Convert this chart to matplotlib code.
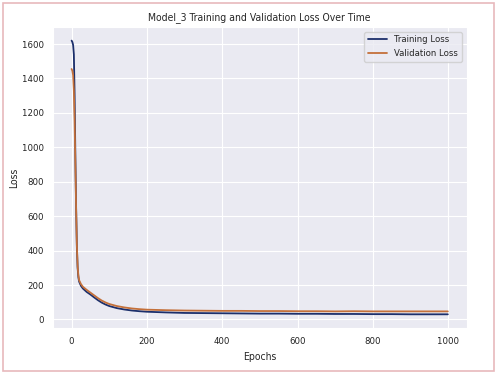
import numpy as np
import matplotlib.pyplot as plt
import seaborn as sns

# loss values at selected epochs
epochs = [0, 2, 4, 6, 8, 10, 12, 14, 16, 18, 20, 25, 30, 40, 50, 60, 70, 80, 90,
          100, 120, 140, 160, 180, 200, 250, 300, 350, 400, 450, 500, 550, 600,
          650, 700, 750, 800, 850, 900, 950, 999]
train_loss = [1620, 1612, 1595, 1540, 1300, 950, 650, 420, 300, 245, 220, 195,
              180, 160, 145, 128, 112, 98, 87, 78, 66, 58, 52, 48, 45, 41, 38,
              37, 36, 35, 34, 34, 33, 33, 32, 32, 31, 31, 30, 30, 30]
val_loss = [1455, 1445, 1420, 1330, 1150, 900, 640, 430, 310, 255, 228, 205,
            190, 172, 156, 140, 124, 110, 99, 90, 78, 70, 64, 60, 57, 54, 52,
            51, 50, 50, 49, 49, 48, 48, 47, 48, 47, 47, 47, 47, 47]

sns.set_style("darkgrid")
plt.rcParams['font.family'] = ['DejaVu Sans']
plt.rcParams['font.stretch'] = 'condensed'

fig = plt.figure(figsize=(4.98, 3.74), dpi=100)
ax = fig.add_axes([0.106, 0.123, 0.831, 0.805])
ax.plot(epochs, train_loss, color='#1c2f6b', lw=1.3, label='Training Loss')
ax.plot(epochs, val_loss, color='#c4703a', lw=1.3, label='Validation Loss')
ax.set_title('Model_3 Training and Validation Loss Over Time', fontsize=7.5, pad=5)
ax.set_xlabel('Epochs', fontsize=7.5)
ax.set_ylabel('Loss', fontsize=7.5, labelpad=2)
ax.tick_params(labelsize=6.8, pad=3, labelcolor='#222222')
ax.legend(loc='upper right', fontsize=6.8)

# pink frame around the whole figure
fig.patches.append(plt.Rectangle((0.006, 0.008), 0.986, 0.984, transform=fig.transFigure,
                                 fill=False, edgecolor='#e8b9bc', lw=1.2))
fig.savefig('out.png', dpi=100)
